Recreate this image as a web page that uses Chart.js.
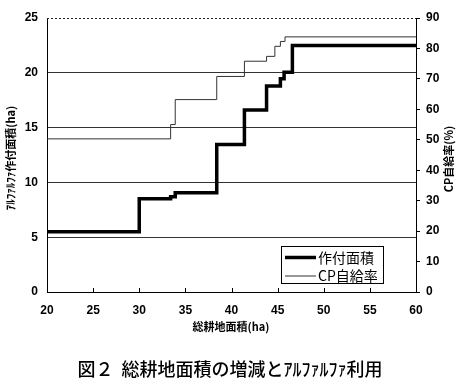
<!DOCTYPE html>
<html>
<head>
<meta charset="utf-8">
<script src="https://cdn.jsdelivr.net/npm/chart.js@4/dist/chart.umd.min.js"></script>
<style>
  html, body { margin: 0; padding: 0; background: #fff; }
  #wrap { width: 461px; height: 388px; position: relative; }
</style>
</head>
<body>
<div id="wrap"><canvas id="chart" width="461" height="388"></canvas></div>
<script>
// total farm area (ha) where each step starts
const areaX = [20, 30, 33.4, 33.9, 38.4, 41.4, 43.8, 45.3, 45.7, 46.6, 60];
// alfalfa planted area (ha)
const areaY = [5.5, 8.5, 8.7, 9.05, 13.45, 16.6, 18.8, 19.45, 20.05, 22.5, 22.5];
// CP self-sufficiency (%)
const cpX = [20, 33.4, 33.9, 38.4, 41.4, 43.8, 44.7, 45.3, 45.8, 60];
const cpY = [50.3, 55, 63.2, 70.8, 75.8, 77.4, 80.7, 82.3, 83.8, 83.8];

const xTicks = [20, 25, 30, 35, 40, 45, 50, 55, 60];
const leftTicks = [0, 5, 10, 15, 20, 25];
const rightTicks = [0, 10, 20, 30, 40, 50, 60, 70, 80, 90];

const labels = {
    area: '作付面積',
    cp: 'CP自給率',
    xTitle: '総耕地面積(ha)',
    leftTitle: 'ｱﾙﾌｧﾙﾌｧ作付面積(ha)',
    rightTitle: 'CP自給率(%)',
    caption: '図２  総耕地面積の増減とｱﾙﾌｧﾙﾌｧ利用'
};

const tickFont = { family: '"Liberation Sans", Arial, sans-serif', size: 12, weight: 'bold' };
const jpFont = '"Noto Sans CJK JP", sans-serif';

// extra drawing: dotted top border, inner x ticks, titles, boxed legend
const decorations = {
    id: 'decorations',
    afterDraw(chart) {
        const ctx = chart.ctx;
        const a = chart.chartArea;
        const xs = chart.scales.x;
        ctx.save();

        // dotted top line
        ctx.strokeStyle = '#222';
        ctx.lineWidth = 1;
        ctx.setLineDash([2, 2]);
        ctx.beginPath();
        ctx.moveTo(a.left, a.top + 0.5);
        ctx.lineTo(a.right, a.top + 0.5);
        ctx.stroke();
        ctx.setLineDash([]);

        // short ticks pointing into the plot on the x axis
        ctx.strokeStyle = '#000';
        xTicks.forEach(v => {
            const px = Math.round(xs.getPixelForValue(v)) + 0.5;
            ctx.beginPath();
            ctx.moveTo(px, a.bottom);
            ctx.lineTo(px, a.bottom - 4);
            ctx.stroke();
        });

        ctx.fillStyle = '#000';
        ctx.textAlign = 'center';
        ctx.textBaseline = 'middle';

        // x axis title
        ctx.font = 'bold 11px ' + jpFont;
        ctx.fillText(labels.xTitle, 231, 327);

        // left title
        ctx.save();
        ctx.translate(11, 158);
        ctx.rotate(-Math.PI / 2);
        ctx.font = 'bold 11px ' + jpFont;
        ctx.fillText(labels.leftTitle, 0, 0);
        ctx.restore();

        // right title
        ctx.save();
        ctx.translate(449, 159);
        ctx.rotate(-Math.PI / 2);
        ctx.font = 'bold 11px ' + jpFont;
        ctx.fillText(labels.rightTitle, 0, 0);
        ctx.restore();

        // caption
        ctx.font = '500 18px ' + jpFont;
        ctx.fillText(labels.caption, 230, 369);

        // legend box
        const bx = 281.5, by = 246.5, bw = 102, bh = 37;
        ctx.fillStyle = '#fff';
        ctx.fillRect(bx, by, bw, bh);
        ctx.strokeStyle = '#000';
        ctx.lineWidth = 1;
        ctx.strokeRect(bx, by, bw, bh);
        ctx.textAlign = 'left';
        ctx.font = '14px ' + jpFont;
        chart.data.datasets.forEach((ds, i) => {
            const y = 257.5 + i * 18.5;
            ctx.strokeStyle = ds.borderColor;
            ctx.lineWidth = ds.borderWidth;
            ctx.beginPath();
            ctx.moveTo(285, y);
            ctx.lineTo(316, y);
            ctx.stroke();
            ctx.fillStyle = '#000';
            ctx.fillText(ds.label, 318, y);
        });
        ctx.restore();
    }
};

new Chart(document.getElementById('chart'), {
    type: 'line',
    data: {
        datasets: [{
            label: labels.area,
            data: areaX.map((x, i) => ({ x: x, y: areaY[i] })),
            yAxisID: 'y',
            stepped: true,
            borderColor: '#000',
            borderWidth: 3.5,
            pointRadius: 0,
            fill: false
        }, {
            label: labels.cp,
            data: cpX.map((x, i) => ({ x: x, y: cpY[i] })),
            yAxisID: 'y2',
            stepped: true,
            borderColor: '#333',
            borderWidth: 1,
            pointRadius: 0,
            fill: false
        }]
    },
    plugins: [decorations],
    options: {
        responsive: false,
        animation: false,
        layout: { padding: { top: 18, left: 0, right: 0, bottom: 0 } },
        plugins: {
            legend: { display: false },
            tooltip: { enabled: false }
        },
        scales: {
            x: {
                type: 'linear',
                min: 20,
                max: 60,
                afterBuildTicks: s => { s.ticks = xTicks.map(v => ({ value: v })); },
                afterFit: s => { s.height = 96; },
                grid: { drawOnChartArea: false, drawTicks: false },
                border: { color: '#000', width: 1 },
                ticks: { font: tickFont, color: '#000', padding: 11 }
            },
            y: {
                position: 'left',
                min: 0,
                max: 25,
                afterBuildTicks: s => { s.ticks = leftTicks.map(v => ({ value: v })); },
                afterFit: s => { s.width = 47; },
                grid: {
                    drawTicks: false,
                    color: c => (c.tick && (c.tick.value === 0 || c.tick.value === 25)) ? 'rgba(0,0,0,0)' : '#333',
                    lineWidth: 1
                },
                border: { color: '#000', width: 1 },
                ticks: { font: tickFont, color: '#000', padding: 9 }
            },
            y2: {
                position: 'right',
                min: 0,
                max: 90,
                afterBuildTicks: s => { s.ticks = rightTicks.map(v => ({ value: v })); },
                afterFit: s => { s.width = 45; },
                grid: { drawOnChartArea: false, tickLength: 4, tickColor: '#000' },
                border: { color: '#000', width: 1 },
                ticks: { font: tickFont, color: '#000', padding: 6 }
            }
        }
    }
});
</script>
</body>
</html>
